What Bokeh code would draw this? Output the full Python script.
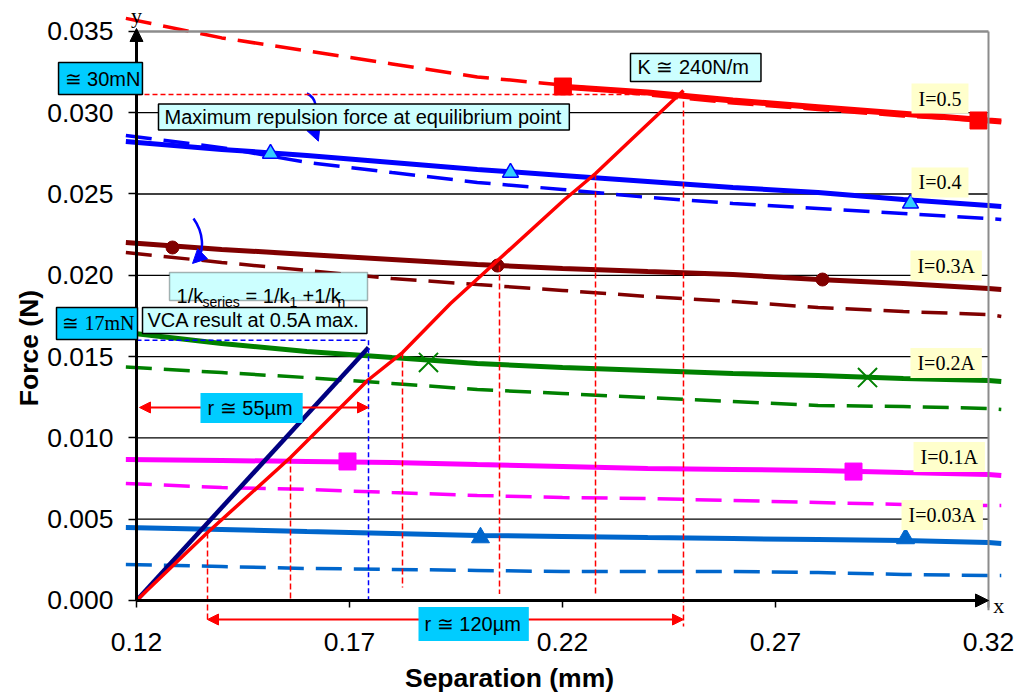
from bokeh.plotting import figure
from bokeh.models import (FixedTicker, PrintfTickFormatter, Arrow, NormalHead,
                          Label, BoxAnnotation)
from bokeh.embed import file_html
from bokeh.resources import INLINE

# ---------------- data ----------------
SEP = [0.1175, 0.14, 0.16, 0.18, 0.20, 0.22, 0.24, 0.26, 0.28, 0.30, 0.32, 0.323]

I05_SEP = [0.22, 0.24, 0.26, 0.28, 0.30, 0.32, 0.323]
I05_SOLID = [0.0316, 0.03124, 0.03075, 0.03034, 0.02993, 0.02952, 0.02946]
I05_DASH = [0.0358, 0.0346, 0.0338, 0.0330, 0.0322, 0.0317, 0.0311, 0.0306, 0.0302, 0.0298, 0.0295, 0.02945]

I04_SOLID = [0.02823, 0.02774, 0.02737, 0.02694, 0.02651, 0.02614, 0.02577, 0.0254, 0.02509, 0.02466, 0.02429, 0.02423]
I04_DASH = [0.0286, 0.02785, 0.02694, 0.02632, 0.02571, 0.02528, 0.02479, 0.02442, 0.02411, 0.0238, 0.02349, 0.02343]

I03_SOLID = [0.02202, 0.02159, 0.02128, 0.02097, 0.02066, 0.02042, 0.02023, 0.02005, 0.01974, 0.0195, 0.01919, 0.01913]
I03_DASH = [0.0214, 0.02079, 0.0203, 0.0198, 0.01943, 0.01907, 0.0187, 0.01839, 0.01802, 0.01777, 0.01759, 0.01747]

I02_SOLID = [0.01648, 0.01581, 0.01531, 0.01494, 0.01458, 0.01433, 0.01415, 0.01396, 0.01384, 0.01365, 0.01353, 0.01347]
I02_DASH = [0.01436, 0.01402, 0.01371, 0.01335, 0.01298, 0.01273, 0.01248, 0.01224, 0.01199, 0.01193, 0.01181, 0.01175]

I01_SOLID = [0.00867, 0.00861, 0.00855, 0.00849, 0.00836, 0.00824, 0.00812, 0.00806, 0.0080, 0.00787, 0.00775, 0.00769]
I01_DASH = [0.0072, 0.00695, 0.00683, 0.00664, 0.00646, 0.00633, 0.00627, 0.00615, 0.00603, 0.0059, 0.00584, 0.00584]

I003_SOLID = [0.00449, 0.00437, 0.00424, 0.00412, 0.0040, 0.00394, 0.00387, 0.00381, 0.00375, 0.00369, 0.00357, 0.00351]
I003_DASH = [0.00221, 0.00209, 0.00197, 0.00191, 0.00185, 0.00178, 0.00178, 0.00178, 0.00172, 0.0016, 0.00154, 0.00154]

# measured spring line (K ~ 240 N/m) and VCA line
K_SEP = [0.12, 0.13667, 0.15615, 0.17423, 0.18244, 0.19371, 0.22023, 0.22775, 0.23667, 0.2484]
K_F = [0.0, 0.00418, 0.00879, 0.01353, 0.01525, 0.01827, 0.0246, 0.02626, 0.02847, 0.03137]
VCA_SEP = [0.12, 0.17446]
VCA_F = [0.0, 0.01556]

# markers
M05_X, M05_Y = [0.22009, 0.31765], [0.03161, 0.02952]
M04_X, M04_Y = [0.15146, 0.20779, 0.30169], [0.02749, 0.02632, 0.02442]
M03_X, M03_Y = [0.12845, 0.20474, 0.28103], [0.02171, 0.0206, 0.01974]
M02_X, M02_Y = [0.18854, 0.2916], [0.01464, 0.01371]
M01_X, M01_Y = [0.16953, 0.28831], [0.00855, 0.00793]
M003_X, M003_Y = [0.20075, 0.30052], [0.00387, 0.00381]

X_TICKS = [0.12, 0.17, 0.22, 0.27, 0.32]
Y_TICKS = [0.0, 0.005, 0.010, 0.015, 0.020, 0.025, 0.030, 0.035]
GRID_Y = [0.005, 0.010, 0.015, 0.020, 0.025, 0.030]
X_MIN, X_MAX, Y_MIN, Y_MAX = 0.12, 0.32, 0.0, 0.035

SANS = "Liberation Sans"
SERIF = "Liberation Serif"

# ---------------- figure ----------------
# the frame covers the whole canvas; the axes are pinned at x=0.12 and y=0
p = figure(width=1018, height=695, x_range=(0.088075, 0.327042), y_range=(-0.0058426, 0.0369),
           output_backend="svg", toolbar_location=None, min_border=0)
p.outline_line_color = None
p.xgrid.visible = False
p.ygrid.visible = False
p.background_fill_color = "white"
p.border_fill_color = "white"

for ax in (p.xaxis[0], p.yaxis[0]):
    ax.axis_line_color = None
    ax.major_tick_line_color = "black"
    ax.major_tick_line_width = 1.5
    ax.major_tick_in = 0
    ax.minor_tick_line_color = None
    ax.major_label_text_font = SANS
    ax.major_label_text_font_size = "26.5px"
    ax.major_label_text_color = "black"
    ax.axis_label_text_font = SANS
    ax.axis_label_text_font_size = "26.5px"
    ax.axis_label_text_font_style = "bold"
    ax.axis_label_text_color = "black"

p.xaxis.fixed_location = Y_MIN
p.xaxis.ticker = FixedTicker(ticks=X_TICKS)
p.xaxis.formatter = PrintfTickFormatter(format="%.2f")
p.xaxis.major_tick_out = 7
p.xaxis.major_label_standoff = 26
p.xaxis.axis_label = "Separation (mm)"
p.xaxis.axis_label_standoff = 8

p.yaxis.fixed_location = X_MIN
p.yaxis.ticker = FixedTicker(ticks=Y_TICKS)
p.yaxis.formatter = PrintfTickFormatter(format="%.3f")
p.yaxis.major_tick_out = 8
p.yaxis.major_label_standoff = 15
p.yaxis.axis_label = "Force (N)"
p.yaxis.axis_label_standoff = 0

# gridlines
p.segment(x0=[X_MIN] * len(GRID_Y), x1=[X_MAX] * len(GRID_Y), y0=GRID_Y, y1=GRID_Y,
          line_color="black", line_width=1.3)

# plot-area border (top and right, grey)
p.add_layout(Arrow(end=None, x_start=X_MIN, y_start=Y_MAX, x_end=X_MAX, y_end=Y_MAX,
                   line_color="#8c8c8c", line_width=2.5))
p.add_layout(Arrow(end=None, x_start=X_MAX, y_start=Y_MAX, x_end=X_MAX, y_end=-0.0006,
                   line_color="#8c8c8c", line_width=2))

DASH = "26 12"
series = [
    (I04_SOLID, I04_DASH, "#0000FF"),
    (I03_SOLID, I03_DASH, "#800000"),
    (I02_SOLID, I02_DASH, "#008000"),
    (I01_SOLID, I01_DASH, "#FF00FF"),
    (I003_SOLID, I003_DASH, "#0066CC"),
]
for solid, dash, col in series:
    p.line(SEP, dash, line_color=col, line_width=3.5, line_dash=DASH)
    p.line(SEP, solid, line_color=col, line_width=5)

p.line(SEP, I05_DASH, line_color="#FF0000", line_width=3.5, line_dash=DASH)
p.line(I05_SEP, I05_SOLID, line_color="#FF0000", line_width=6)

# markers
p.scatter(M05_X, M05_Y, marker="square", size=17, fill_color="#FF0000", line_color="#FF0000")
p.scatter(M04_X, M04_Y, marker="triangle", size=16, fill_color="#33CCFF", line_color="#0000FF", line_width=1.5)
p.scatter(M03_X, M03_Y, marker="circle", size=13, fill_color="#800000", line_color="#800000")
p.scatter(M02_X, M02_Y, marker="x", size=27, line_color="#008000", line_width=2)
p.scatter(M01_X, M01_Y, marker="square", size=17, fill_color="#FF00FF", line_color="#FF00FF")
p.scatter(M003_X, M003_Y, marker="triangle", size=18, fill_color="#0066CC", line_color="#0066CC")

# VCA line and spring line
p.line(VCA_SEP, VCA_F, line_color="#000080", line_width=4.5)
p.line(K_SEP, K_F, line_color="#FF0000", line_width=3.5)

# reference dashed lines
RED_REF = [  # x, top, bottom
    (0.13667, 0.00418, -0.00123),
    (0.15615, 0.00879, 0.0001),
    (0.18244, 0.01525, 0.0008),
    (0.20521, 0.0206, 0.0004),
    (0.22775, 0.02626, 0.0003),
    (0.2484, 0.03124, -0.0016),
]
for x, top, bot in RED_REF:
    p.add_layout(Arrow(end=None, x_start=x, y_start=top, x_end=x, y_end=bot,
                       line_color="#FF0000", line_width=1.5, line_dash="6 3"))
p.add_layout(Arrow(end=None, x_start=X_MIN, y_start=0.03112, x_end=0.2484, y_end=0.03112,
                   line_color="#FF0000", line_width=1.5, line_dash="5 3"))
p.add_layout(Arrow(end=None, x_start=0.17446, y_start=0.0160, x_end=0.17446, y_end=0.0,
                   line_color="#0000FF", line_width=1.5, line_dash="5 3"))
p.add_layout(Arrow(end=None, x_start=X_MIN, y_start=0.0160, x_end=0.17446, y_end=0.0160,
                   line_color="#0000FF", line_width=1.5, line_dash="5 3"))

# axes with arrow heads
p.add_layout(Arrow(end=NormalHead(size=13, fill_color="black", line_color="black"),
                   x_start=X_MIN, y_start=Y_MIN, x_end=X_MIN, y_end=0.03518,
                   line_color="black", line_width=3))
p.add_layout(Arrow(end=NormalHead(size=13, fill_color="black", line_color="black"),
                   x_start=X_MIN, y_start=Y_MIN, x_end=X_MAX, y_end=Y_MIN,
                   line_color="black", line_width=3))

# double arrows for r
for xs, xe, yy in [(0.1207, 0.17446, 0.01187), (0.13667, 0.2484, -0.00117)]:
    p.add_layout(Arrow(start=NormalHead(size=11, fill_color="#FF0000", line_color="#FF0000"),
                       end=NormalHead(size=11, fill_color="#FF0000", line_color="#FF0000"),
                       x_start=xs, y_start=yy, x_end=xe, y_end=yy,
                       line_color="#FF0000", line_width=2))

# curved blue arrows
p.bezier(x0=[0.1600, 0.13338], y0=[0.03118, 0.02349],
         x1=[0.1617, 0.13430], y1=[0.02870, 0.02100],
         cx0=[0.16366, 0.13573], cy0=[0.03075, 0.02263],
         cx1=[0.16131, 0.13596], cy1=[0.02952, 0.02153],
         line_color="#0000FF", line_width=2.5)
p.add_layout(Arrow(end=NormalHead(size=14, fill_color="#0000FF", line_color="#0000FF"),
                   x_start=0.1616, y_start=0.0290, x_end=0.1627, y_end=0.02825,
                   line_color="#0000FF", line_width=2.5))
p.add_layout(Arrow(end=NormalHead(size=14, fill_color="#0000FF", line_color="#0000FF"),
                   x_start=0.13480, y_start=0.02115, x_end=0.13315, y_end=0.02073,
                   line_color="#0000FF", line_width=2.5))


def box_label(x, y, text, fill, border=True, font=SANS, size="20px", pad=None):
    lab = Label(x=x, y=y, text=text, text_font=font, text_font_size=size,
                text_color="black", text_align="left", text_baseline="middle",
                background_fill_color=fill,
                border_line_color="black" if border else None, border_line_width=1.5,
                padding=pad if pad is not None else dict(left=6, right=6, top=3, bottom=3))
    p.add_layout(lab)


CYAN = "#00CCFF"
LCYAN = "#CCFFFF"
YEL = "#FFFFCC"
box_label(0.10170, 0.0321, "\u2245 30mN", CYAN, pad=dict(left=6, right=2, top=5, bottom=5))
box_label(0.12516, 0.02974, "Maximum repulsion force at equilibrium point", LCYAN,
          pad=dict(left=6, right=8, top=2, bottom=2))
box_label(0.23596, 0.03278, "K \u2245 240N/m", LCYAN, pad=dict(left=7, right=12, top=3, bottom=3))
box_label(0.10122, 0.01704, "\u2245 17mN", CYAN, font=SERIF, pad=dict(left=6, right=3, top=5, bottom=5))
box_label(0.12141, 0.01722, "VCA result at 0.5A max.", LCYAN, pad=dict(left=5, right=6, top=2, bottom=2))
box_label(0.13502, 0.01184, "r \u2245 55\u00b5m", CYAN, border=False,
          pad=dict(left=7, right=10, top=4, bottom=4))
box_label(0.12 + 282 / 4260, -0.00145, "r \u2245 120\u00b5m", CYAN, border=False,
          pad=dict(left=6, right=8, top=6, bottom=6))

for x, y, t in [(0.30193, 0.03087, "I=0.5"), (0.30193, 0.02571, "I=0.4"),
                (0.30168, 0.0206, "I=0.3A"), (0.30168, 0.01461, "I=0.2A"),
                (0.30240, 0.00883, "I=0.1A"), (0.29958, 0.00526, "I=0.03A")]:
    box_label(x, y, t, YEL, border=False, font=SERIF, pad=dict(left=7, right=7, top=4, bottom=4))

# 1/k_series = 1/k_1 + 1/k_n
p.add_layout(BoxAnnotation(left=0.12775, right=0.17423, top=0.02017, bottom=0.01845,
                           fill_color=LCYAN, fill_alpha=1, line_color="black", line_width=1.5))
for x, y, t, s in [(0.12939, 0.0187, "1/k", "20px"), (0.13549, 0.01835, "series", "14px"),
                   (0.14560, 0.0187, "= 1/k", "20px"), (0.15590, 0.01835, "1", "14px"),
                   (0.15897, 0.0187, "+1/k", "20px"), (0.16718, 0.01835, "n", "14px")]:
    p.add_layout(Label(x=x, y=y, text=t, text_font=SANS, text_font_size=s,
                       text_color="black", text_align="left", text_baseline="alphabetic"))

# axis letters
p.add_layout(Label(x=X_MIN, y=0.0360, text="y", text_font=SERIF, text_font_size="22px",
                   text_align="center", text_baseline="middle", text_color="black"))
p.add_layout(Label(x=0.3224, y=-0.0003, text="x", text_font=SERIF, text_font_size="22px",
                   text_align="center", text_baseline="middle", text_color="black"))

open("out.html", "w").write(file_html(p, INLINE))
